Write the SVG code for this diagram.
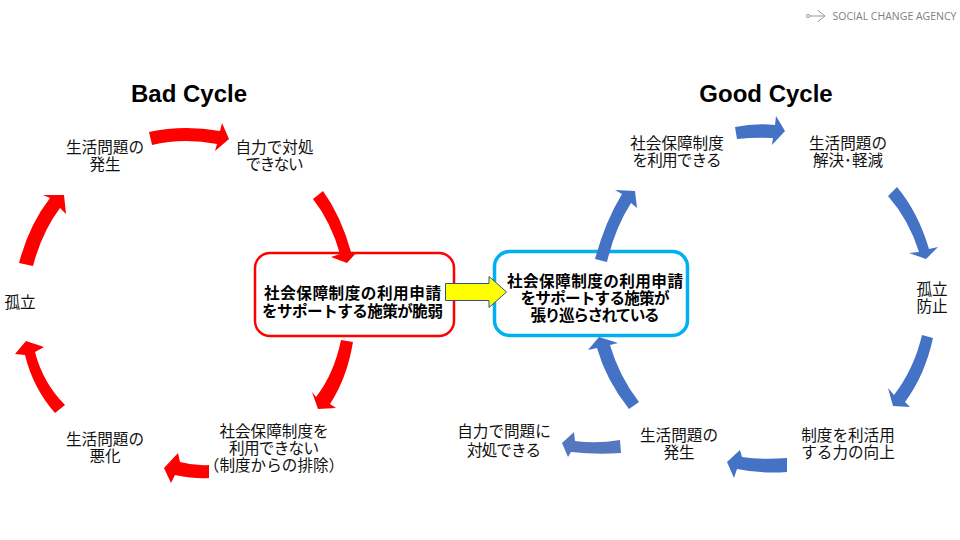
<svg xmlns="http://www.w3.org/2000/svg" width="960" height="540" viewBox="0 0 960 540">
<style>
text{font-family:"Noto Sans CJK JP","Liberation Sans",sans-serif;font-size:15.6px;fill:#111;text-anchor:middle}
.b{font-weight:700;fill:#000}
.t{font-family:"Liberation Sans",Arial,sans-serif;font-size:24px;font-weight:700;fill:#000}
.r{fill:#f00}
.g{fill:#4472c4}
.box{fill:#fff}
</style>
<rect width="960" height="540" fill="#fff"/>
<g id="logo">
<circle cx="808" cy="16" r="1.6" fill="none" stroke="#999" stroke-width="1"/>
<path d="M810,16H825M818,10.500L825,16L818,21.500" fill="none" stroke="#999" stroke-width="1"/>
<text x="894.500" y="20" style="font-family:'Open Sans',sans-serif;font-size:10.500px;fill:#808080">SOCIAL CHANGE AGENCY</text>
</g>
<g id="title-bad"><text class="t" x="189" y="102">Bad Cycle</text></g>
<g id="title-good"><text class="t" x="766" y="102">Good Cycle</text></g>
<g id="box-bad"><rect class="box" x="255" y="253" width="199" height="83" rx="15" stroke="#f00" stroke-width="2.500"/></g>
<g id="box-good"><rect class="box" x="494.500" y="251.500" width="193" height="84" rx="15" stroke="#00b0f0" stroke-width="3.500"/></g>
<g id="connectors">
<path class="r" d="M149,132Q183,124.500 220,131L222,123L229,139L215,151L217,144Q183,137.500 152,145Z"/>
<path class="r" d="M313,199L323,191Q341,216 351,252L357,252L347,263L331,257L340,254Q331,222 313,199Z"/>
<path class="r" d="M19,263Q29,225 50,198L43,195L64,195L66,214L60,208Q42,232 33,266Z"/>
<path class="r" d="M55,413Q33,388 25,355L15,354L26,341L44,347L35,352Q43,383 65,405Z"/>
<path class="r" d="M341,340Q334,374 316,397L312,392L318,409L336,408L330,404Q347,378 353,342Z"/>
<path class="r" d="M209,465Q195,466 180,462L178,453L164,468L171,483L175,475Q195,479 209,478Z"/>
<path class="g" d="M735,127Q755,123 775,125L776,116L785,131L772,145L773,138Q755,137 737,139Z"/>
<path class="g" d="M888,196L897,187Q918,212 929,249L938,247L926,259L909,253L919,252Q909,220 888,196Z"/>
<path class="g" d="M595,259Q605,222 622,194L615,190L635,191L637,208L631,203Q615,228 607,262Z"/>
<path class="g" d="M922,335Q914,369 894,395L888,388L893,406L910,407L905,402Q925,375 933,338Z"/>
<path class="g" d="M787,458Q762,460 742,457L740,450L727,462L734,478L737,469Q762,474 787,472Z"/>
<path d="M620,440Q597,444 575,441L574,432L562,443L568,457L571,452Q597,455 621,453Z" fill="#5577be"/>
<path class="g" d="M629,409Q606,380 597,348L588,350L599,337L618,343L610,345Q619,376 639,402Z"/>
<path d="M445.500,283.500H489V276.500L506.500,292L489,307.500V300.500H445.500Z" fill="#ff0" stroke="#2f528f" stroke-width="1"/>
</g>
<g id="n1"><text x="105" y="153">生活問題の</text><text x="105" y="170">発生</text></g>
<g id="n2"><text x="274.500" y="153">自力で対処</text><text x="274.500" y="170" textLength="58">できない</text></g>
<g id="n3"><text x="20" y="308">孤立</text></g>
<g id="n4"><text x="105" y="445">生活問題の</text><text x="105" y="462">悪化</text></g>
<g id="n5"><text x="274" y="437">社会保障制度を</text><text x="274" y="454" textLength="90">利用できない</text><text x="274" y="471">（制度からの排除）</text></g>
<g id="n6"><text class="b" x="352.500" y="299" textLength="177">社会保障制度の利用申請</text><text class="b" x="352.500" y="317" textLength="181">をサポートする施策が脆弱</text></g>
<g id="n7"><text class="b" x="595" y="287" textLength="176">社会保障制度の利用申請</text><text class="b" x="595" y="304" textLength="149">をサポートする施策が</text><text class="b" x="595" y="321" textLength="129">張り巡らされている</text></g>
<g id="n8"><text x="677" y="149">社会保障制度</text><text x="677" y="166" textLength="89">を利用できる</text></g>
<g id="n9"><text x="848" y="149">生活問題の</text><text x="848" y="166">解決･軽減</text></g>
<g id="n10"><text x="932" y="295">孤立</text><text x="932" y="312">防止</text></g>
<g id="n11"><text x="848" y="441">制度を利活用</text><text x="848" y="458">する力の向上</text></g>
<g id="n12"><text x="679" y="441">生活問題の</text><text x="679" y="458">発生</text></g>
<g id="n13"><text x="504" y="437">自力で問題に</text><text x="504" y="456" textLength="74">対処できる</text></g>
</svg>
